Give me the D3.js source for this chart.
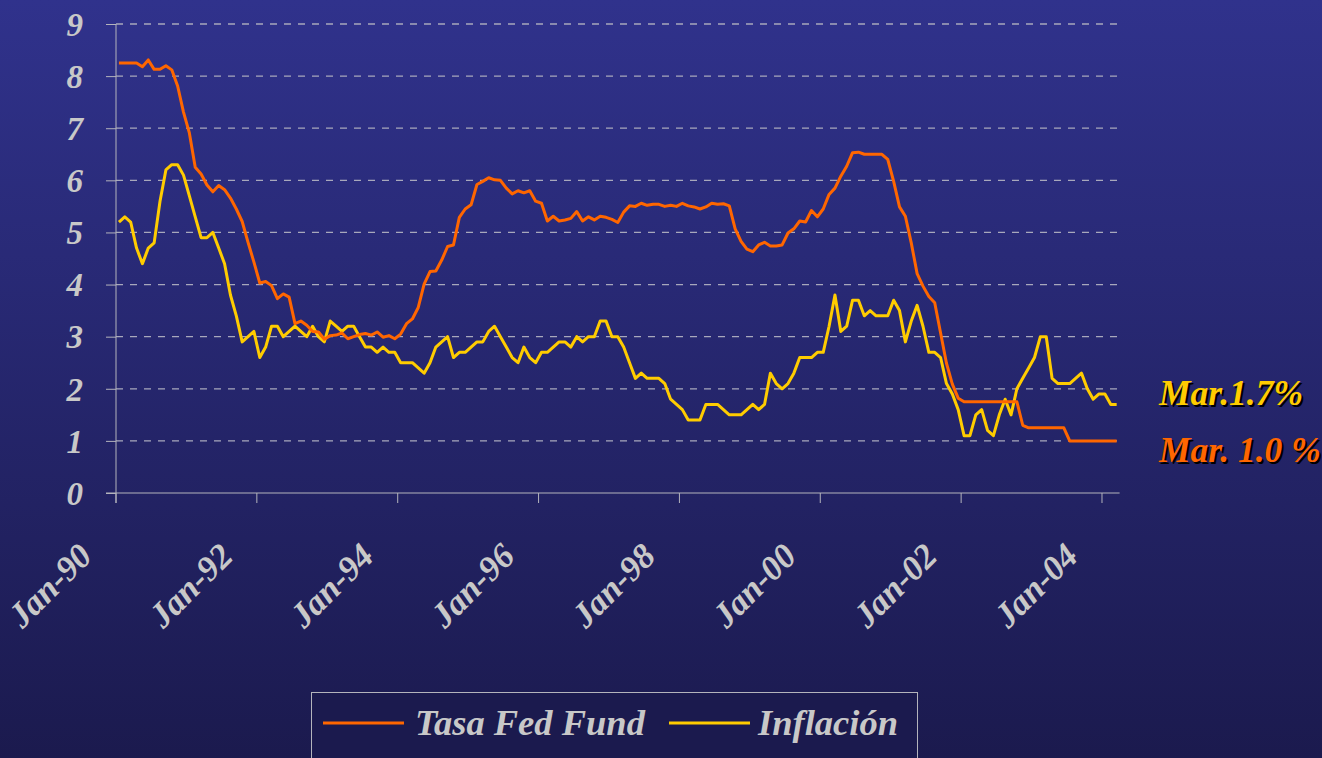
<!DOCTYPE html>
<html>
<head>
<meta charset="utf-8">
<script src="https://cdn.jsdelivr.net/npm/d3@7"></script>
<style>
  html, body { margin: 0; padding: 0; background: #1b1a4e; }
  svg { display: block; }
  text { font-family: "Liberation Serif", "Times New Roman", serif; font-weight: bold; font-style: italic; }
</style>
</head>
<body>
<div id="chart"></div>
<script>
// monthly, Jan-90 .. Mar-04
const monthCount = 171;

const fedFunds = [
  8.25, 8.25, 8.25, 8.25, 8.18, 8.31, 8.13, 8.13, 8.20, 8.12, 7.81, 7.31,
  6.91, 6.25, 6.12, 5.91, 5.78, 5.90, 5.82, 5.66, 5.45, 5.21, 4.81, 4.43,
  4.03, 4.06, 3.98, 3.73, 3.82, 3.76, 3.25, 3.30, 3.22, 3.10, 3.09, 2.95,
  3.02, 3.03, 3.07, 2.96, 3.00, 3.04, 3.06, 3.03, 3.09, 2.99, 3.02, 2.96,
  3.05, 3.25, 3.34, 3.56, 4.01, 4.25, 4.26, 4.47, 4.73, 4.76, 5.29, 5.45,
  5.53, 5.92, 5.98, 6.05, 6.01, 6.00, 5.85, 5.74, 5.80, 5.76, 5.80, 5.60,
  5.56, 5.22, 5.31, 5.22, 5.24, 5.27, 5.40, 5.22, 5.30, 5.24, 5.31, 5.29,
  5.25, 5.19, 5.39, 5.51, 5.50, 5.56, 5.52, 5.54, 5.54, 5.50, 5.52, 5.50,
  5.56, 5.51, 5.49, 5.45, 5.49, 5.56, 5.54, 5.55, 5.51, 5.07, 4.83, 4.68,
  4.63, 4.76, 4.81, 4.74, 4.74, 4.76, 4.99, 5.07, 5.22, 5.20, 5.42, 5.30,
  5.45, 5.73, 5.85, 6.08, 6.27, 6.53, 6.54, 6.50, 6.50, 6.50, 6.50, 6.40,
  5.98, 5.49, 5.31, 4.80, 4.21, 3.97, 3.77, 3.65, 3.07, 2.49, 2.09, 1.82,
  1.75, 1.75, 1.75, 1.75, 1.75, 1.75, 1.75, 1.75, 1.75, 1.75, 1.30, 1.25,
  1.25, 1.25, 1.25, 1.25, 1.25, 1.25, 1.00, 1.00, 1.00, 1.00, 1.00, 1.00,
  1.00, 1.00, 1.00
];

const inflation = [
  5.2, 5.3, 5.2, 4.7, 4.4, 4.7, 4.8, 5.6, 6.2, 6.3, 6.3, 6.1,
  5.7, 5.3, 4.9, 4.9, 5.0, 4.7, 4.4, 3.8, 3.4, 2.9, 3.0, 3.1,
  2.6, 2.8, 3.2, 3.2, 3.0, 3.1, 3.2, 3.1, 3.0, 3.2, 3.0, 2.9,
  3.3, 3.2, 3.1, 3.2, 3.2, 3.0, 2.8, 2.8, 2.7, 2.8, 2.7, 2.7,
  2.5, 2.5, 2.5, 2.4, 2.3, 2.5, 2.8, 2.9, 3.0, 2.6, 2.7, 2.7,
  2.8, 2.9, 2.9, 3.1, 3.2, 3.0, 2.8, 2.6, 2.5, 2.8, 2.6, 2.5,
  2.7, 2.7, 2.8, 2.9, 2.9, 2.8, 3.0, 2.9, 3.0, 3.0, 3.3, 3.3,
  3.0, 3.0, 2.8, 2.5, 2.2, 2.3, 2.2, 2.2, 2.2, 2.1, 1.8, 1.7,
  1.6, 1.4, 1.4, 1.4, 1.7, 1.7, 1.7, 1.6, 1.5, 1.5, 1.5, 1.6,
  1.7, 1.6, 1.7, 2.3, 2.1, 2.0, 2.1, 2.3, 2.6, 2.6, 2.6, 2.7,
  2.7, 3.2, 3.8, 3.1, 3.2, 3.7, 3.7, 3.4, 3.5, 3.4, 3.4, 3.4,
  3.7, 3.5, 2.9, 3.3, 3.6, 3.2, 2.7, 2.7, 2.6, 2.1, 1.9, 1.6,
  1.1, 1.1, 1.5, 1.6, 1.2, 1.1, 1.5, 1.8, 1.5, 2.0, 2.2, 2.4,
  2.6, 3.0, 3.0, 2.2, 2.1, 2.1, 2.1, 2.2, 2.3, 2.0, 1.8, 1.9,
  1.9, 1.7, 1.7
];

const yTicks = [0, 1, 2, 3, 4, 5, 6, 7, 8, 9];
const xTickLabels = ["Jan-90", "Jan-92", "Jan-94", "Jan-96", "Jan-98", "Jan-00", "Jan-02", "Jan-04"];
const seriesNames = ["Tasa Fed Fund", "Inflación"];
const endLabels = ["Mar.1.7%", "Mar. 1.0 %"];

const colors = { fed: "#ff6600", infl: "#ffcc00", text: "#c8c8c8", axis: "#b4b4bc", grid: "#a8a8bc" };

const width = 1322;
const height = 758;
const plot = { left: 116, right: 1119.6, top: 24, bottom: 493 };

const svg = d3.select("#chart").append("svg")
  .attr("width", width)
  .attr("height", height);

// background gradient
const defs = svg.append("defs");
const grad = defs.append("linearGradient")
  .attr("id", "bg")
  .attr("x1", 0).attr("y1", 0).attr("x2", 0).attr("y2", 1);
grad.append("stop").attr("offset", "0%").attr("stop-color", "#30328c");
grad.append("stop").attr("offset", "100%").attr("stop-color", "#1b1a4e");
svg.append("rect").attr("width", width).attr("height", height).attr("fill", "url(#bg)");

// scales
const months = d3.range(monthCount);
const x = d3.scaleBand()
  .domain(months)
  .range([plot.left, plot.right]);
const y = d3.scaleLinear()
  .domain([0, 9])
  .range([plot.bottom, plot.top]);
const cx = i => x(i) + x.bandwidth() / 2;

// gridlines
svg.append("g").attr("class", "grid")
  .selectAll("line")
  .data(yTicks.filter(d => d > 0))
  .join("line")
  .attr("x1", plot.left)
  .attr("x2", plot.right)
  .attr("y1", d => y(d))
  .attr("y2", d => y(d))
  .attr("stroke", colors.grid)
  .attr("stroke-width", 1.3)
  .attr("stroke-dasharray", "7,7");

// y axis
const yAxis = svg.append("g")
  .attr("transform", `translate(${plot.left},0)`)
  .call(d3.axisLeft(y).tickValues(yTicks).tickSize(10).tickSizeOuter(0).tickFormat(d3.format("d")));
yAxis.select(".domain").attr("stroke", colors.axis).attr("d", `M0,${plot.top}V${plot.bottom + 10}`);
yAxis.selectAll(".tick line").attr("stroke", colors.axis);
yAxis.selectAll(".tick text")
  .attr("x", -33)
  .attr("dy", "0.34em")
  .attr("fill", colors.text)
  .style("font-size", "33px");

// x axis, ticks every 24 months at category edges
const tickIdx = d3.range(0, monthCount, 24);
const xAxis = svg.append("g").attr("class", "x-axis");
xAxis.append("line")
  .attr("x1", plot.left - 10).attr("x2", plot.right)
  .attr("y1", plot.bottom).attr("y2", plot.bottom)
  .attr("stroke", colors.axis);
xAxis.selectAll(".xtick")
  .data(tickIdx)
  .join("line")
  .attr("class", "xtick")
  .attr("x1", d => x(d)).attr("x2", d => x(d))
  .attr("y1", plot.bottom).attr("y2", plot.bottom + 10)
  .attr("stroke", colors.axis);
xAxis.selectAll(".xlabel")
  .data(tickIdx)
  .join("text")
  .attr("class", "xlabel")
  .attr("transform", d => `translate(${x(d) - 22},558) rotate(-45)`)
  .attr("text-anchor", "end")
  .attr("fill", colors.text)
  .style("font-size", "35px")
  .text((d, i) => xTickLabels[i]);

// lines
const line = d3.line()
  .x((d, i) => cx(i))
  .y(d => y(d));

svg.append("path")
  .datum(inflation)
  .attr("d", line)
  .attr("fill", "none")
  .attr("stroke", colors.infl)
  .attr("stroke-width", 3)
  .attr("stroke-linejoin", "round");

svg.append("path")
  .datum(fedFunds)
  .attr("d", line)
  .attr("fill", "none")
  .attr("stroke", colors.fed)
  .attr("stroke-width", 3)
  .attr("stroke-linejoin", "round");

// end labels with drop shadow
const endG = svg.append("g");
[[endLabels[0], colors.infl, 405], [endLabels[1], colors.fed, 462]].forEach(([t, c, by]) => {
  endG.append("text").attr("x", 1161).attr("y", by + 2).attr("fill", "#000")
    .style("font-size", "35.5px").text(t);
  endG.append("text").attr("x", 1159).attr("y", by).attr("fill", c)
    .style("font-size", "35.5px").text(t);
});

// legend
const legend = svg.append("g");
legend.append("rect")
  .attr("x", 311.5).attr("y", 692.5)
  .attr("width", 606).attr("height", 80)
  .attr("fill", "#1b1a4e")
  .attr("stroke", colors.axis);
const legendItems = [
  { name: seriesNames[0], color: colors.fed, x0: 323, tx: 415 },
  { name: seriesNames[1], color: colors.infl, x0: 669, tx: 758 }
];
legendItems.forEach(d => {
  legend.append("line")
    .attr("x1", d.x0).attr("x2", d.x0 + 81)
    .attr("y1", 723).attr("y2", 723)
    .attr("stroke", d.color).attr("stroke-width", 3);
  legend.append("text")
    .attr("x", d.tx).attr("y", 735)
    .attr("fill", colors.text)
    .style("font-size", "36.5px")
    .text(d.name);
});
</script>
</body>
</html>
